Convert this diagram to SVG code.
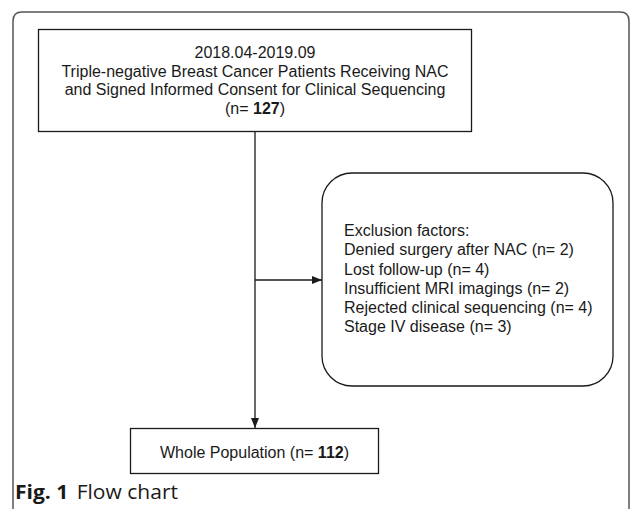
<svg xmlns="http://www.w3.org/2000/svg" width="633" height="509" viewBox="0 0 633 509">
  <style>
    .box { fill: #ffffff; stroke: #1a1a1a; stroke-width: 1.3; }
    .frame { fill: none; stroke: #555555; stroke-width: 1.5; }
    .lbl { font-family: "Liberation Sans", Arial, sans-serif; font-size: 16px; fill: #1a1a1a; }
    .mid { text-anchor: middle; }
    .link { fill: none; stroke: #1a1a1a; stroke-width: 1.3; }
    .cap { font-family: "Open Sans", "Noto Sans", sans-serif; font-size: 20px; fill: #1a1a1a; }
  </style>
  <defs>
    <marker id="arrow" viewBox="0 0 10 8" refX="10" refY="4" markerWidth="10" markerHeight="8" markerUnits="userSpaceOnUse" orient="auto">
      <path d="M0,0 L10,4 L0,8 Z" fill="#1a1a1a"/>
    </marker>
  </defs>

  <rect width="633" height="509" fill="#ffffff"/>

  <!-- figure frame, open at the bottom -->
  <path class="frame" d="M13,520 L13,21 Q13,12 22,12 L620,12 Q629,12 629,21 L629,520"/>

  <!-- connectors -->
  <g id="connectors">
    <line class="link" x1="255" y1="131" x2="255" y2="428" marker-end="url(#arrow)"/>
    <line class="link" x1="255" y1="280" x2="322" y2="280" marker-end="url(#arrow)"/>
  </g>

  <g id="node-enrolled">
    <rect class="box" x="38.5" y="29.5" width="433" height="102"/>
    <text class="lbl mid" x="255" y="57.5">2018.04-2019.09</text>
    <text class="lbl mid" x="255" y="76.5">Triple-negative Breast Cancer Patients Receiving NAC</text>
    <text class="lbl mid" x="255" y="95.3">and Signed Informed Consent for Clinical Sequencing</text>
    <text class="lbl mid" x="255" y="114">(n= <tspan font-weight="bold">127</tspan>)</text>
  </g>

  <g id="node-excluded">
    <rect class="box" x="322" y="173" width="291" height="213" rx="30" ry="30"/>
    <text class="lbl" x="344" y="235.7">Exclusion factors:</text>
    <text class="lbl" x="344" y="255.2">Denied surgery after NAC (n= 2)</text>
    <text class="lbl" x="344" y="274.5">Lost follow-up (n= 4)</text>
    <text class="lbl" x="344" y="293.8">Insufficient MRI imagings (n= 2)</text>
    <text class="lbl" x="344" y="313.1">Rejected clinical sequencing (n= 4)</text>
    <text class="lbl" x="344" y="332.4">Stage IV disease (n= 3)</text>
  </g>

  <g id="node-population">
    <rect class="box" x="130.5" y="428.5" width="248" height="45"/>
    <text class="lbl mid" x="254.5" y="458">Whole Population (n= <tspan font-weight="bold">112</tspan>)</text>
  </g>

  <text class="cap" x="15" y="499" textLength="163" lengthAdjust="spacingAndGlyphs"><tspan font-weight="bold">Fig. 1</tspan><tspan dx="8">Flow chart</tspan></text>
</svg>
